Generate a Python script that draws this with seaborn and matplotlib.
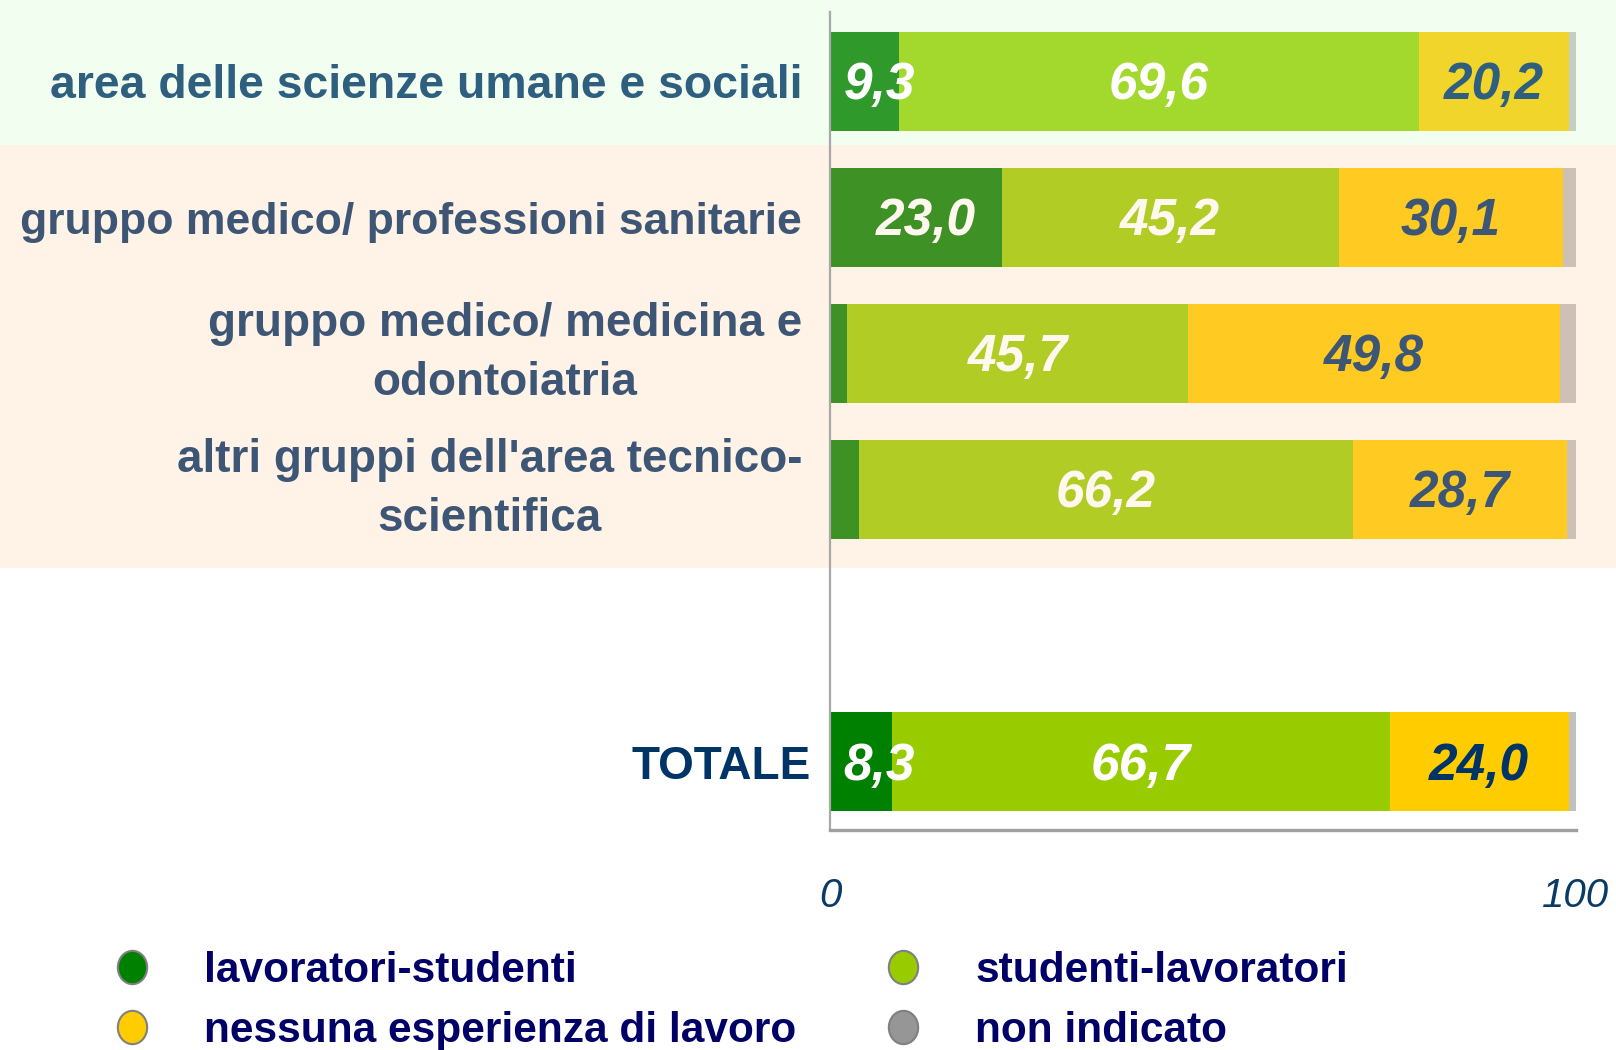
import numpy as np
import pandas as pd
import matplotlib
matplotlib.use("Agg")
import matplotlib.pyplot as plt
import seaborn as sns
from matplotlib.patches import Rectangle
from matplotlib.lines import Line2D
from matplotlib.path import Path
from matplotlib.transforms import Affine2D

# ---------------- data ----------------
categories = [
    "area delle scienze umane e sociali",
    "gruppo medico/ professioni sanitarie",
    "gruppo medico/ medicina e\nodontoiatria",
    "altri gruppi dell'area tecnico-\nscientifica",
    "TOTALE",
]
lavoratori_studenti = [9.3, 23.0, 2.3, 3.9, 8.3]
studenti_lavoratori = [69.6, 45.2, 45.7, 66.2, 66.7]
nessuna_esperienza = [20.2, 30.1, 49.8, 28.7, 24.0]
non_indicato = [0.9, 1.7, 2.2, 1.2, 1.0]
series_names = ["lavoratori-studenti", "studenti-lavoratori",
                "nessuna esperienza di lavoro", "non indicato"]
x_ticks = [0, 100]

# ---------------- styles ----------------
row_colors = [
    ["#2F9A2B", "#A3D82C", "#F2D52A", "#C5CEC5"],
    ["#3E9125", "#B1CC25", "#FFCB22", "#CEC0B5"],
    ["#3E9125", "#B1CC25", "#FFCB22", "#CEC0B5"],
    ["#3E9125", "#B1CC25", "#FFCB22", "#CEC0B5"],
    ["#008000", "#99CC00", "#FFCC00", "#C0C0C0"],
]
label_colors = ["#2E5F7F", "#3D5675", "#3D5675", "#3D5675", "#003366"]
label_sizes = [33.4, 32.0, 33, 33, 33]
light_text = ["#FFFFFF", "#FFF8EE", "#FFF8EE", "#FFF8EE", "#FFFFFF"]
legend_colors = ["#008000", "#99CC00", "#FFCC00", "#969696"]

sns.set_style("white")
plt.rcParams["font.family"] = ["Liberation Sans", "DejaVu Sans"]

W, H = 1616, 1050
fig = plt.figure(figsize=(W / 100, H / 100), dpi=100)
fig.patch.set_facecolor("white")

# background bands
fig.add_artist(Rectangle((0, 1 - 145 / H), 1, 145 / H, transform=fig.transFigure,
                         facecolor="#F2FEF0", edgecolor="none", zorder=-2))
fig.add_artist(Rectangle((0, 1 - 568 / H), 1, (568 - 145) / H, transform=fig.transFigure,
                         facecolor="#FFF2E6", edgecolor="none", zorder=-2))

ax = fig.add_axes([830 / W, 1 - 830 / H, 746 / W, (830 - 12) / H])
ax.patch.set_alpha(0)

spacer = " "
order = categories[:4] + [spacer] + [categories[4]]

segs = np.array([lavoratori_studenti, studenti_lavoratori, nessuna_esperienza, non_indicato])
cum = np.cumsum(segs, axis=0)

for k in [3, 2, 1, 0]:
    df = pd.DataFrame({"cat": categories, "val": cum[k]})
    pal = {c: row_colors[i][k] for i, c in enumerate(categories)}
    pal[spacer] = "#FFFFFF"
    sns.barplot(data=df, x="val", y="cat", hue="cat", order=order, hue_order=order,
                palette=pal, dodge=False, legend=False, width=0.727, saturation=1,
                linewidth=0, ax=ax)

ypos = {c: order.index(c) for c in categories}
vfs = 37
for i, c in enumerate(categories):
    y = ypos[c] + 0.03
    v0, v1, v2 = lavoratori_studenti[i], studenti_lavoratori[i], nessuna_esperienza[i]
    fmt = lambda v: f"{v:.1f}".replace(".", ",")
    if v0 >= 5:
        xc = max(v0 / 2 + 1.4, 6.6)
        ax.text(xc, y, fmt(v0), ha="center", va="center", fontsize=vfs,
                fontweight="bold", fontstyle="italic", color=light_text[i])
    ax.text(v0 + v1 / 2, y, fmt(v1), ha="center", va="center", fontsize=vfs,
            fontweight="bold", fontstyle="italic", color=light_text[i])
    ax.text(v0 + v1 + v2 / 2, y, fmt(v2), ha="center", va="center", fontsize=vfs,
            fontweight="bold", fontstyle="italic", color=label_colors[i])

ax.set_xlim(0, 100)
ax.set_ylim(5.50, -0.51)
ax.set_xlabel("")
ax.set_ylabel("")
ax.set_xticks(x_ticks)
ax.set_xticklabels([str(t) for t in x_ticks], fontsize=29, fontstyle="italic",
                   color="#0A3A66")
ax.tick_params(axis="x", length=0, pad=34)
ax.tick_params(axis="y", length=0, pad=20)

for tick, t in zip(ax.yaxis.get_major_ticks(), ax.get_yticklabels()):
    t.set_fontweight("bold")
    t.set_multialignment("center")
    t.set_linespacing(1.45)
    txt = t.get_text()
    if txt in categories:
        idx = categories.index(txt)
        t.set_color(label_colors[idx])
        t.set_fontsize(label_sizes[idx])
    if "\n" in txt:
        t.set_verticalalignment("center")
    if txt == "TOTALE":
        tick.set_pad(14)

for s in ["top", "right"]:
    ax.spines[s].set_visible(False)
ax.spines["left"].set_color("#A8A8A8")
ax.spines["left"].set_linewidth(1.6)
ax.spines["bottom"].set_color("#A0A0A0")
ax.spines["bottom"].set_linewidth(2.4)

ellipse = Path.unit_circle().transformed(Affine2D().scale(0.88, 1.0))

def handle(c):
    return Line2D([], [], marker=ellipse, linestyle="none", markersize=24,
                  markerfacecolor=c, markeredgecolor="#808080", markeredgewidth=1.5)

common = dict(loc="upper left", frameon=False, borderpad=0, borderaxespad=0,
              handlelength=1.0, handletextpad=1.2, labelspacing=0.47,
              labelcolor="#000066", prop={"size": 30.5, "weight": "bold"})
fig.legend([handle(legend_colors[0]), handle(legend_colors[2])],
           [series_names[0], series_names[2]],
           bbox_to_anchor=(111 / W, 0.094), **common)
fig.legend([handle(legend_colors[1]), handle(legend_colors[3])],
           [series_names[1], series_names[3]],
           bbox_to_anchor=(882 / W, 0.094), **common)

fig.savefig("out.png", dpi=100, facecolor="white")
